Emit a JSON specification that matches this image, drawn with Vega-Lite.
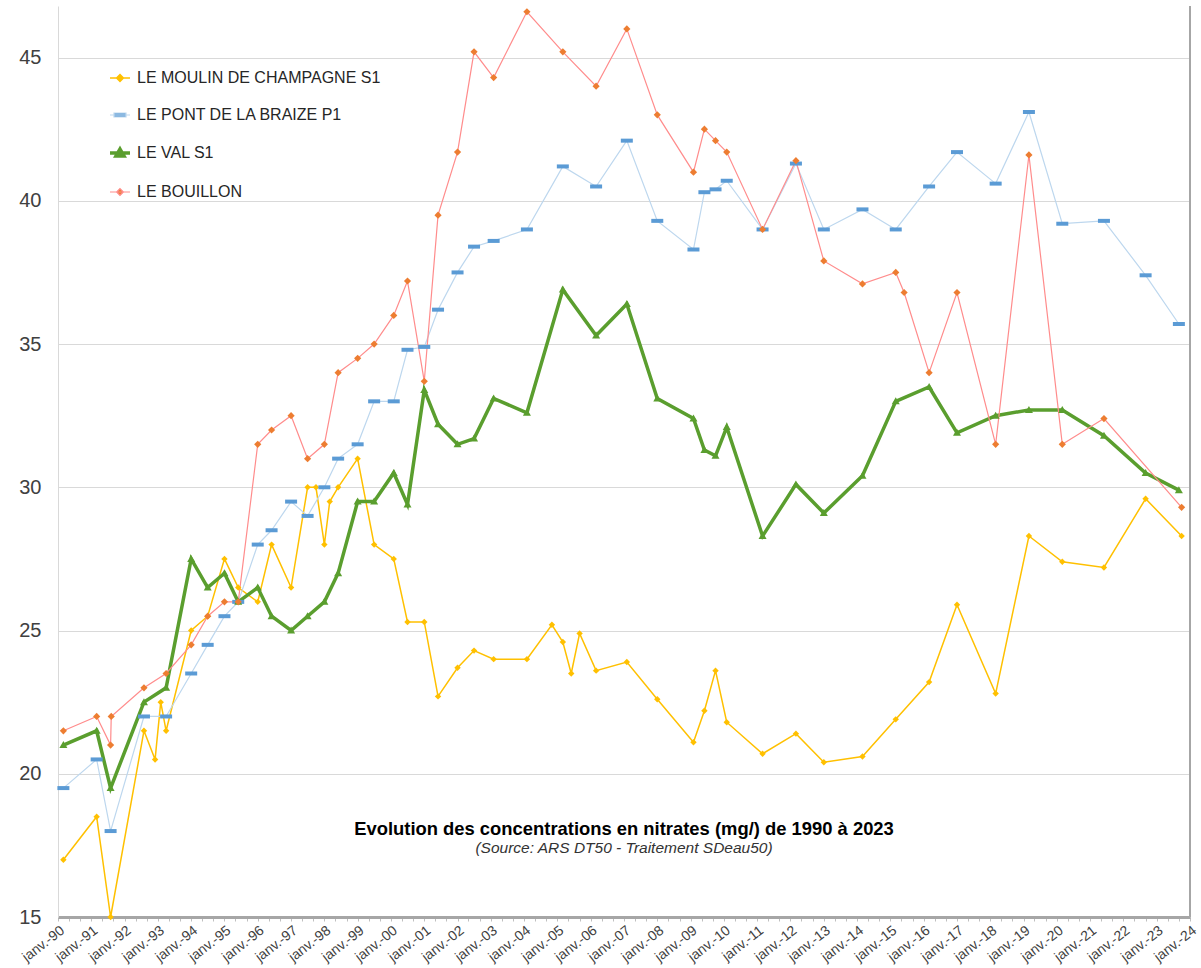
{
  "$schema": "https://vega.github.io/schema/vega-lite/v6.json",
  "width": 1132,
  "height": 911,
  "autosize": {"type": "none"},
  "padding": {"left": 58, "top": 6, "right": 11, "bottom": 51},
  "background": "#ffffff",
  "config": {
    "view": {"stroke": null},
    "font": "Liberation Sans",
    "axis": {"labelFont": "Liberation Sans", "titleFont": "Liberation Sans"},
    "legend": {"labelFont": "Liberation Sans"}
  },
  "title": {
    "text": "Evolution des concentrations en nitrates (mg/) de 1990 à 2023",
    "subtitle": "(Source: ARS DT50 - Traitement  SDeau50)",
    "orient": "bottom",
    "anchor": "middle",
    "offset": -144,
    "font": "Liberation Sans",
    "fontSize": 18.4,
    "fontWeight": "bold",
    "color": "#000000",
    "subtitleFont": "Liberation Sans",
    "subtitleFontSize": 15.5,
    "subtitleFontStyle": "italic",
    "subtitleColor": "#333333",
    "subtitlePadding": 3
  },
  "data": {
    "values": [
      {"serie": "LE MOULIN DE CHAMPAGNE S1", "date": "1990-03-01", "nitrates": 17.0},
      {"serie": "LE MOULIN DE CHAMPAGNE S1", "date": "1991-03-01", "nitrates": 18.5},
      {"serie": "LE MOULIN DE CHAMPAGNE S1", "date": "1991-08-01", "nitrates": 15.0},
      {"serie": "LE MOULIN DE CHAMPAGNE S1", "date": "1992-08-01", "nitrates": 21.5},
      {"serie": "LE MOULIN DE CHAMPAGNE S1", "date": "1992-12-01", "nitrates": 20.5},
      {"serie": "LE MOULIN DE CHAMPAGNE S1", "date": "1993-02-01", "nitrates": 22.5},
      {"serie": "LE MOULIN DE CHAMPAGNE S1", "date": "1993-04-01", "nitrates": 21.5},
      {"serie": "LE MOULIN DE CHAMPAGNE S1", "date": "1994-01-01", "nitrates": 25.0},
      {"serie": "LE MOULIN DE CHAMPAGNE S1", "date": "1994-07-01", "nitrates": 25.5},
      {"serie": "LE MOULIN DE CHAMPAGNE S1", "date": "1995-01-01", "nitrates": 27.5},
      {"serie": "LE MOULIN DE CHAMPAGNE S1", "date": "1995-06-01", "nitrates": 26.5},
      {"serie": "LE MOULIN DE CHAMPAGNE S1", "date": "1996-01-01", "nitrates": 26.0},
      {"serie": "LE MOULIN DE CHAMPAGNE S1", "date": "1996-06-01", "nitrates": 28.0},
      {"serie": "LE MOULIN DE CHAMPAGNE S1", "date": "1997-01-01", "nitrates": 26.5},
      {"serie": "LE MOULIN DE CHAMPAGNE S1", "date": "1997-07-01", "nitrates": 30.0},
      {"serie": "LE MOULIN DE CHAMPAGNE S1", "date": "1997-10-01", "nitrates": 30.0},
      {"serie": "LE MOULIN DE CHAMPAGNE S1", "date": "1998-01-01", "nitrates": 28.0},
      {"serie": "LE MOULIN DE CHAMPAGNE S1", "date": "1998-03-01", "nitrates": 29.5},
      {"serie": "LE MOULIN DE CHAMPAGNE S1", "date": "1998-06-01", "nitrates": 30.0},
      {"serie": "LE MOULIN DE CHAMPAGNE S1", "date": "1999-01-01", "nitrates": 31.0},
      {"serie": "LE MOULIN DE CHAMPAGNE S1", "date": "1999-07-01", "nitrates": 28.0},
      {"serie": "LE MOULIN DE CHAMPAGNE S1", "date": "2000-02-01", "nitrates": 27.5},
      {"serie": "LE MOULIN DE CHAMPAGNE S1", "date": "2000-07-01", "nitrates": 25.3},
      {"serie": "LE MOULIN DE CHAMPAGNE S1", "date": "2001-01-01", "nitrates": 25.3},
      {"serie": "LE MOULIN DE CHAMPAGNE S1", "date": "2001-06-01", "nitrates": 22.7},
      {"serie": "LE MOULIN DE CHAMPAGNE S1", "date": "2002-01-01", "nitrates": 23.7},
      {"serie": "LE MOULIN DE CHAMPAGNE S1", "date": "2002-07-01", "nitrates": 24.3},
      {"serie": "LE MOULIN DE CHAMPAGNE S1", "date": "2003-02-01", "nitrates": 24.0},
      {"serie": "LE MOULIN DE CHAMPAGNE S1", "date": "2004-02-01", "nitrates": 24.0},
      {"serie": "LE MOULIN DE CHAMPAGNE S1", "date": "2004-11-01", "nitrates": 25.2},
      {"serie": "LE MOULIN DE CHAMPAGNE S1", "date": "2005-03-01", "nitrates": 24.6},
      {"serie": "LE MOULIN DE CHAMPAGNE S1", "date": "2005-06-01", "nitrates": 23.5},
      {"serie": "LE MOULIN DE CHAMPAGNE S1", "date": "2005-09-01", "nitrates": 24.9},
      {"serie": "LE MOULIN DE CHAMPAGNE S1", "date": "2006-03-01", "nitrates": 23.6},
      {"serie": "LE MOULIN DE CHAMPAGNE S1", "date": "2007-02-01", "nitrates": 23.9},
      {"serie": "LE MOULIN DE CHAMPAGNE S1", "date": "2008-01-01", "nitrates": 22.6},
      {"serie": "LE MOULIN DE CHAMPAGNE S1", "date": "2009-02-01", "nitrates": 21.1},
      {"serie": "LE MOULIN DE CHAMPAGNE S1", "date": "2009-06-01", "nitrates": 22.2},
      {"serie": "LE MOULIN DE CHAMPAGNE S1", "date": "2009-10-01", "nitrates": 23.6},
      {"serie": "LE MOULIN DE CHAMPAGNE S1", "date": "2010-02-01", "nitrates": 21.8},
      {"serie": "LE MOULIN DE CHAMPAGNE S1", "date": "2011-03-01", "nitrates": 20.7},
      {"serie": "LE MOULIN DE CHAMPAGNE S1", "date": "2012-03-01", "nitrates": 21.4},
      {"serie": "LE MOULIN DE CHAMPAGNE S1", "date": "2013-01-01", "nitrates": 20.4},
      {"serie": "LE MOULIN DE CHAMPAGNE S1", "date": "2014-03-01", "nitrates": 20.6},
      {"serie": "LE MOULIN DE CHAMPAGNE S1", "date": "2015-03-01", "nitrates": 21.9},
      {"serie": "LE MOULIN DE CHAMPAGNE S1", "date": "2016-03-01", "nitrates": 23.2},
      {"serie": "LE MOULIN DE CHAMPAGNE S1", "date": "2017-01-01", "nitrates": 25.9},
      {"serie": "LE MOULIN DE CHAMPAGNE S1", "date": "2018-03-01", "nitrates": 22.8},
      {"serie": "LE MOULIN DE CHAMPAGNE S1", "date": "2019-03-01", "nitrates": 28.3},
      {"serie": "LE MOULIN DE CHAMPAGNE S1", "date": "2020-03-01", "nitrates": 27.4},
      {"serie": "LE MOULIN DE CHAMPAGNE S1", "date": "2021-06-01", "nitrates": 27.2},
      {"serie": "LE MOULIN DE CHAMPAGNE S1", "date": "2022-09-01", "nitrates": 29.6},
      {"serie": "LE MOULIN DE CHAMPAGNE S1", "date": "2023-10-01", "nitrates": 28.3},

      {"serie": "LE PONT DE LA BRAIZE P1", "date": "1990-03-01", "nitrates": 19.5},
      {"serie": "LE PONT DE LA BRAIZE P1", "date": "1991-03-01", "nitrates": 20.5},
      {"serie": "LE PONT DE LA BRAIZE P1", "date": "1991-08-01", "nitrates": 18.0},
      {"serie": "LE PONT DE LA BRAIZE P1", "date": "1992-08-01", "nitrates": 22.0},
      {"serie": "LE PONT DE LA BRAIZE P1", "date": "1993-04-01", "nitrates": 22.0},
      {"serie": "LE PONT DE LA BRAIZE P1", "date": "1994-01-01", "nitrates": 23.5},
      {"serie": "LE PONT DE LA BRAIZE P1", "date": "1994-07-01", "nitrates": 24.5},
      {"serie": "LE PONT DE LA BRAIZE P1", "date": "1995-01-01", "nitrates": 25.5},
      {"serie": "LE PONT DE LA BRAIZE P1", "date": "1995-06-01", "nitrates": 26.0},
      {"serie": "LE PONT DE LA BRAIZE P1", "date": "1996-01-01", "nitrates": 28.0},
      {"serie": "LE PONT DE LA BRAIZE P1", "date": "1996-06-01", "nitrates": 28.5},
      {"serie": "LE PONT DE LA BRAIZE P1", "date": "1997-01-01", "nitrates": 29.5},
      {"serie": "LE PONT DE LA BRAIZE P1", "date": "1997-07-01", "nitrates": 29.0},
      {"serie": "LE PONT DE LA BRAIZE P1", "date": "1998-01-01", "nitrates": 30.0},
      {"serie": "LE PONT DE LA BRAIZE P1", "date": "1998-06-01", "nitrates": 31.0},
      {"serie": "LE PONT DE LA BRAIZE P1", "date": "1999-01-01", "nitrates": 31.5},
      {"serie": "LE PONT DE LA BRAIZE P1", "date": "1999-07-01", "nitrates": 33.0},
      {"serie": "LE PONT DE LA BRAIZE P1", "date": "2000-02-01", "nitrates": 33.0},
      {"serie": "LE PONT DE LA BRAIZE P1", "date": "2000-07-01", "nitrates": 34.8},
      {"serie": "LE PONT DE LA BRAIZE P1", "date": "2001-01-01", "nitrates": 34.9},
      {"serie": "LE PONT DE LA BRAIZE P1", "date": "2001-06-01", "nitrates": 36.2},
      {"serie": "LE PONT DE LA BRAIZE P1", "date": "2002-01-01", "nitrates": 37.5},
      {"serie": "LE PONT DE LA BRAIZE P1", "date": "2002-07-01", "nitrates": 38.4},
      {"serie": "LE PONT DE LA BRAIZE P1", "date": "2003-02-01", "nitrates": 38.6},
      {"serie": "LE PONT DE LA BRAIZE P1", "date": "2004-02-01", "nitrates": 39.0},
      {"serie": "LE PONT DE LA BRAIZE P1", "date": "2005-03-01", "nitrates": 41.2},
      {"serie": "LE PONT DE LA BRAIZE P1", "date": "2006-03-01", "nitrates": 40.5},
      {"serie": "LE PONT DE LA BRAIZE P1", "date": "2007-02-01", "nitrates": 42.1},
      {"serie": "LE PONT DE LA BRAIZE P1", "date": "2008-01-01", "nitrates": 39.3},
      {"serie": "LE PONT DE LA BRAIZE P1", "date": "2009-02-01", "nitrates": 38.3},
      {"serie": "LE PONT DE LA BRAIZE P1", "date": "2009-06-01", "nitrates": 40.3},
      {"serie": "LE PONT DE LA BRAIZE P1", "date": "2009-10-01", "nitrates": 40.4},
      {"serie": "LE PONT DE LA BRAIZE P1", "date": "2010-02-01", "nitrates": 40.7},
      {"serie": "LE PONT DE LA BRAIZE P1", "date": "2011-03-01", "nitrates": 39.0},
      {"serie": "LE PONT DE LA BRAIZE P1", "date": "2012-03-01", "nitrates": 41.3},
      {"serie": "LE PONT DE LA BRAIZE P1", "date": "2013-01-01", "nitrates": 39.0},
      {"serie": "LE PONT DE LA BRAIZE P1", "date": "2014-03-01", "nitrates": 39.7},
      {"serie": "LE PONT DE LA BRAIZE P1", "date": "2015-03-01", "nitrates": 39.0},
      {"serie": "LE PONT DE LA BRAIZE P1", "date": "2016-03-01", "nitrates": 40.5},
      {"serie": "LE PONT DE LA BRAIZE P1", "date": "2017-01-01", "nitrates": 41.7},
      {"serie": "LE PONT DE LA BRAIZE P1", "date": "2018-03-01", "nitrates": 40.6},
      {"serie": "LE PONT DE LA BRAIZE P1", "date": "2019-03-01", "nitrates": 43.1},
      {"serie": "LE PONT DE LA BRAIZE P1", "date": "2020-03-01", "nitrates": 39.2},
      {"serie": "LE PONT DE LA BRAIZE P1", "date": "2021-06-01", "nitrates": 39.3},
      {"serie": "LE PONT DE LA BRAIZE P1", "date": "2022-09-01", "nitrates": 37.4},
      {"serie": "LE PONT DE LA BRAIZE P1", "date": "2023-09-01", "nitrates": 35.7},

      {"serie": "LE VAL S1", "date": "1990-03-01", "nitrates": 21.0},
      {"serie": "LE VAL S1", "date": "1991-03-01", "nitrates": 21.5},
      {"serie": "LE VAL S1", "date": "1991-08-01", "nitrates": 19.5},
      {"serie": "LE VAL S1", "date": "1992-08-01", "nitrates": 22.5},
      {"serie": "LE VAL S1", "date": "1993-04-01", "nitrates": 23.0},
      {"serie": "LE VAL S1", "date": "1994-01-01", "nitrates": 27.5},
      {"serie": "LE VAL S1", "date": "1994-07-01", "nitrates": 26.5},
      {"serie": "LE VAL S1", "date": "1995-01-01", "nitrates": 27.0},
      {"serie": "LE VAL S1", "date": "1995-06-01", "nitrates": 26.0},
      {"serie": "LE VAL S1", "date": "1996-01-01", "nitrates": 26.5},
      {"serie": "LE VAL S1", "date": "1996-06-01", "nitrates": 25.5},
      {"serie": "LE VAL S1", "date": "1997-01-01", "nitrates": 25.0},
      {"serie": "LE VAL S1", "date": "1997-07-01", "nitrates": 25.5},
      {"serie": "LE VAL S1", "date": "1998-01-01", "nitrates": 26.0},
      {"serie": "LE VAL S1", "date": "1998-06-01", "nitrates": 27.0},
      {"serie": "LE VAL S1", "date": "1999-01-01", "nitrates": 29.5},
      {"serie": "LE VAL S1", "date": "1999-07-01", "nitrates": 29.5},
      {"serie": "LE VAL S1", "date": "2000-02-01", "nitrates": 30.5},
      {"serie": "LE VAL S1", "date": "2000-07-01", "nitrates": 29.4},
      {"serie": "LE VAL S1", "date": "2001-01-01", "nitrates": 33.4},
      {"serie": "LE VAL S1", "date": "2001-06-01", "nitrates": 32.2},
      {"serie": "LE VAL S1", "date": "2002-01-01", "nitrates": 31.5},
      {"serie": "LE VAL S1", "date": "2002-07-01", "nitrates": 31.7},
      {"serie": "LE VAL S1", "date": "2003-02-01", "nitrates": 33.1},
      {"serie": "LE VAL S1", "date": "2004-02-01", "nitrates": 32.6},
      {"serie": "LE VAL S1", "date": "2005-03-01", "nitrates": 36.9},
      {"serie": "LE VAL S1", "date": "2006-03-01", "nitrates": 35.3},
      {"serie": "LE VAL S1", "date": "2007-02-01", "nitrates": 36.4},
      {"serie": "LE VAL S1", "date": "2008-01-01", "nitrates": 33.1},
      {"serie": "LE VAL S1", "date": "2009-02-01", "nitrates": 32.4},
      {"serie": "LE VAL S1", "date": "2009-06-01", "nitrates": 31.3},
      {"serie": "LE VAL S1", "date": "2009-10-01", "nitrates": 31.1},
      {"serie": "LE VAL S1", "date": "2010-02-01", "nitrates": 32.1},
      {"serie": "LE VAL S1", "date": "2011-03-01", "nitrates": 28.3},
      {"serie": "LE VAL S1", "date": "2012-03-01", "nitrates": 30.1},
      {"serie": "LE VAL S1", "date": "2013-01-01", "nitrates": 29.1},
      {"serie": "LE VAL S1", "date": "2014-03-01", "nitrates": 30.4},
      {"serie": "LE VAL S1", "date": "2015-03-01", "nitrates": 33.0},
      {"serie": "LE VAL S1", "date": "2016-03-01", "nitrates": 33.5},
      {"serie": "LE VAL S1", "date": "2017-01-01", "nitrates": 31.9},
      {"serie": "LE VAL S1", "date": "2018-03-01", "nitrates": 32.5},
      {"serie": "LE VAL S1", "date": "2019-03-01", "nitrates": 32.7},
      {"serie": "LE VAL S1", "date": "2020-03-01", "nitrates": 32.7},
      {"serie": "LE VAL S1", "date": "2021-06-01", "nitrates": 31.8},
      {"serie": "LE VAL S1", "date": "2022-09-01", "nitrates": 30.5},
      {"serie": "LE VAL S1", "date": "2023-09-01", "nitrates": 29.9},

      {"serie": "LE BOUILLON", "date": "1990-03-01", "nitrates": 21.5},
      {"serie": "LE BOUILLON", "date": "1991-03-01", "nitrates": 22.0},
      {"serie": "LE BOUILLON", "date": "1991-08-01", "nitrates": 21.0},
      {"serie": "LE BOUILLON", "date": "1991-08-08", "nitrates": 22.0},
      {"serie": "LE BOUILLON", "date": "1992-08-01", "nitrates": 23.0},
      {"serie": "LE BOUILLON", "date": "1993-04-01", "nitrates": 23.5},
      {"serie": "LE BOUILLON", "date": "1994-01-01", "nitrates": 24.5},
      {"serie": "LE BOUILLON", "date": "1994-07-01", "nitrates": 25.5},
      {"serie": "LE BOUILLON", "date": "1995-01-01", "nitrates": 26.0},
      {"serie": "LE BOUILLON", "date": "1995-06-01", "nitrates": 26.0},
      {"serie": "LE BOUILLON", "date": "1996-01-01", "nitrates": 31.5},
      {"serie": "LE BOUILLON", "date": "1996-06-01", "nitrates": 32.0},
      {"serie": "LE BOUILLON", "date": "1997-01-01", "nitrates": 32.5},
      {"serie": "LE BOUILLON", "date": "1997-07-01", "nitrates": 31.0},
      {"serie": "LE BOUILLON", "date": "1998-01-01", "nitrates": 31.5},
      {"serie": "LE BOUILLON", "date": "1998-06-01", "nitrates": 34.0},
      {"serie": "LE BOUILLON", "date": "1999-01-01", "nitrates": 34.5},
      {"serie": "LE BOUILLON", "date": "1999-07-01", "nitrates": 35.0},
      {"serie": "LE BOUILLON", "date": "2000-02-01", "nitrates": 36.0},
      {"serie": "LE BOUILLON", "date": "2000-07-01", "nitrates": 37.2},
      {"serie": "LE BOUILLON", "date": "2001-01-01", "nitrates": 33.7},
      {"serie": "LE BOUILLON", "date": "2001-06-01", "nitrates": 39.5},
      {"serie": "LE BOUILLON", "date": "2002-01-01", "nitrates": 41.7},
      {"serie": "LE BOUILLON", "date": "2002-07-01", "nitrates": 45.2},
      {"serie": "LE BOUILLON", "date": "2003-02-01", "nitrates": 44.3},
      {"serie": "LE BOUILLON", "date": "2004-02-01", "nitrates": 46.6},
      {"serie": "LE BOUILLON", "date": "2005-03-01", "nitrates": 45.2},
      {"serie": "LE BOUILLON", "date": "2006-03-01", "nitrates": 44.0},
      {"serie": "LE BOUILLON", "date": "2007-02-01", "nitrates": 46.0},
      {"serie": "LE BOUILLON", "date": "2008-01-01", "nitrates": 43.0},
      {"serie": "LE BOUILLON", "date": "2009-02-01", "nitrates": 41.0},
      {"serie": "LE BOUILLON", "date": "2009-06-01", "nitrates": 42.5},
      {"serie": "LE BOUILLON", "date": "2009-10-01", "nitrates": 42.1},
      {"serie": "LE BOUILLON", "date": "2010-02-01", "nitrates": 41.7},
      {"serie": "LE BOUILLON", "date": "2011-03-01", "nitrates": 39.0},
      {"serie": "LE BOUILLON", "date": "2012-03-01", "nitrates": 41.4},
      {"serie": "LE BOUILLON", "date": "2013-01-01", "nitrates": 37.9},
      {"serie": "LE BOUILLON", "date": "2014-03-01", "nitrates": 37.1},
      {"serie": "LE BOUILLON", "date": "2015-03-01", "nitrates": 37.5},
      {"serie": "LE BOUILLON", "date": "2015-06-01", "nitrates": 36.8},
      {"serie": "LE BOUILLON", "date": "2016-03-01", "nitrates": 34.0},
      {"serie": "LE BOUILLON", "date": "2017-01-01", "nitrates": 36.8},
      {"serie": "LE BOUILLON", "date": "2018-03-01", "nitrates": 31.5},
      {"serie": "LE BOUILLON", "date": "2019-03-01", "nitrates": 41.6},
      {"serie": "LE BOUILLON", "date": "2020-03-01", "nitrates": 31.5},
      {"serie": "LE BOUILLON", "date": "2021-06-01", "nitrates": 32.4},
      {"serie": "LE BOUILLON", "date": "2023-10-01", "nitrates": 29.3}
    ]
  },
  "encoding": {
    "x": {
      "field": "date",
      "type": "temporal",
      "title": null,
      "scale": {"domain": [{"year": 1990, "month": 1, "date": 1}, {"year": 2024, "month": 1, "date": 1}]},
      "axis": {
        "tickCount": {"interval": "month", "step": 4},
        "labelExpr": "month(datum.value) == 0 ? 'janv.-' + timeFormat(datum.value, '%y') : ''",
        "labelOverlap": false,
        "labelAngle": -38,
        "labelFontSize": 14,
        "labelColor": "#404040",
        "labelPadding": 2,
        "grid": false,
        "domainColor": "#A6A6A6",
        "domainWidth": 3,
        "tickColor": "#BFBFBF",
        "tickSize": 4,
        "tickWidth": 1
      }
    },
    "y": {
      "field": "nitrates",
      "type": "quantitative",
      "title": null,
      "scale": {"domain": [15, 46.8], "nice": false, "zero": false},
      "axis": {
        "values": [15, 20, 25, 30, 35, 40, 45],
        "labelFontSize": 20,
        "labelColor": "#404040",
        "labelPadding": 17,
        "ticks": false,
        "domainColor": "#D9D9D9",
        "domainWidth": 1,
        "gridColor": "#D9D9D9",
        "gridWidth": 1
      }
    }
  },
  "layer": [
    {
      "mark": {"type": "line", "interpolate": "linear"},
      "encoding": {
        "color": {
          "field": "serie",
          "type": "nominal",
          "scale": {
            "domain": ["LE MOULIN DE CHAMPAGNE S1", "LE PONT DE LA BRAIZE P1", "LE VAL S1", "LE BOUILLON"],
            "range": ["#FFC000", "#BDD7EE", "#5A9E2E", "#FF8C8C"]
          },
          "legend": {
            "title": null,
            "orient": "none",
            "legendX": 50,
            "legendY": 61,
            "padding": 0,
            "symbolType": "stroke",
            "symbolSize": 400,
            "labelFontSize": 16,
            "labelColor": "#262626",
            "labelOffset": 5,
            "rowPadding": 18,
            "labelLimit": 400,
            "encode": {
              "symbols": {
                "update": {
                  "shape": {"signal": "datum.value == 'LE PONT DE LA BRAIZE P1' ? 'M-1,0H1M-0.6,-0.2H0.6V0.2H-0.6Z' : datum.value == 'LE VAL S1' ? 'M-1,0H1M0,-0.4L0.4,0.3L-0.4,0.3Z' : 'M-1,0H1M0,-0.34L0.34,0L0,0.34L-0.34,0Z'"},
                  "fill": {"signal": "datum.value == 'LE MOULIN DE CHAMPAGNE S1' ? '#FFC000' : datum.value == 'LE PONT DE LA BRAIZE P1' ? '#5B9BD5' : datum.value == 'LE VAL S1' ? '#5A9E2E' : '#ED7D31'"},
                  "fillOpacity": {"value": 1},
                  "opacity": {"value": 1}
                }
              }
            }
          }
        },
        "strokeWidth": {
          "field": "serie",
          "type": "nominal",
          "scale": {
            "type": "ordinal",
            "domain": ["LE MOULIN DE CHAMPAGNE S1", "LE PONT DE LA BRAIZE P1", "LE VAL S1", "LE BOUILLON"],
            "range": [1.5, 1.2, 3.5, 1.2]
          },
          "legend": null
        }
      }
    },
    {
      "mark": {"type": "point", "filled": true, "size": 400, "opacity": 1, "strokeWidth": 0},
      "encoding": {
        "fill": {
          "field": "serie",
          "type": "nominal",
          "sort": ["LE MOULIN DE CHAMPAGNE S1", "LE PONT DE LA BRAIZE P1", "LE VAL S1", "LE BOUILLON"],
          "scale": {"range": ["#FFC000", "#5B9BD5", "#5A9E2E", "#ED7D31"]},
          "legend": null
        },
        "shape": {
          "field": "serie",
          "type": "nominal",
          "sort": ["LE MOULIN DE CHAMPAGNE S1", "LE PONT DE LA BRAIZE P1", "LE VAL S1", "LE BOUILLON"],
          "scale": {
            "range": [
              "M0,-0.32L0.32,0L0,0.32L-0.32,0Z",
              "M-0.6,-0.2H0.6V0.2H-0.6Z",
              "M0,-0.4L0.4,0.3L-0.4,0.3Z",
              "M0,-0.36L0.36,0L0,0.36L-0.36,0Z"
            ]
          },
          "legend": null
        }
      }
    },
    {
      "mark": {"type": "rule", "color": "#A6A6A6", "strokeWidth": 2},
      "encoding": {
        "x": {"datum": {"year": 2024, "month": 1, "date": 1}, "type": "temporal"},
        "y": {"datum": 15, "type": "quantitative"},
        "y2": {"datum": 46.8}
      }
    }
  ]
}
